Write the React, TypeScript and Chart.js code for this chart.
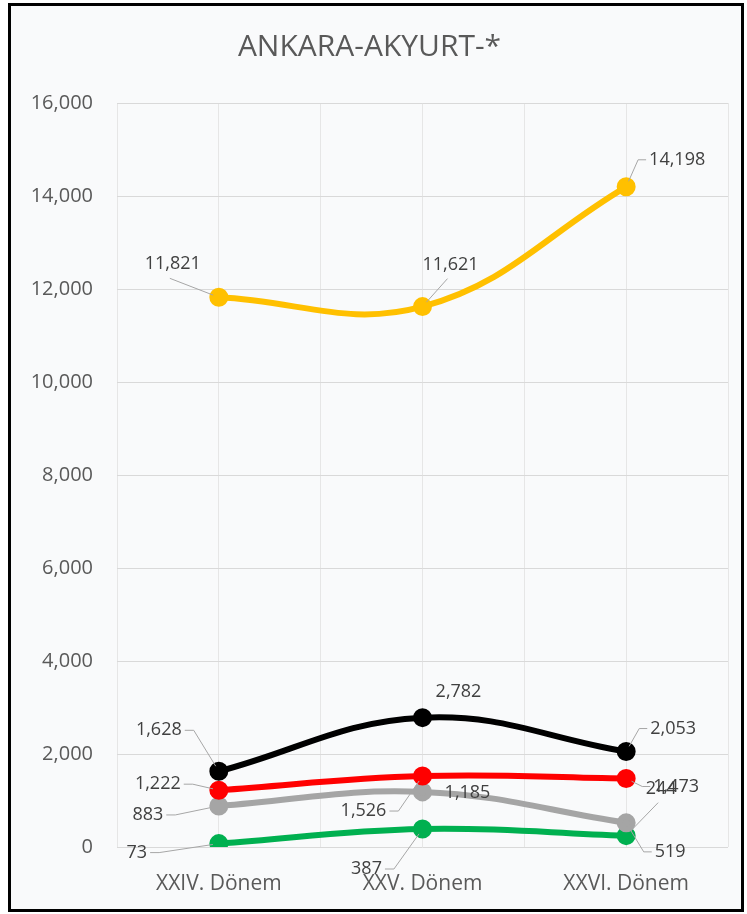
import React, { useEffect, useRef } from "react";
import { Chart, registerables } from "chart.js";

Chart.register(...registerables);

const FONT = "'Open Sans', 'Noto Sans', sans-serif";

const title = "ANKARA-AKYURT-*";
const categories = ["XXIV. Dönem", "XXV. Dönem", "XXVI. Dönem"];
const yellowValues = [11821, 11621, 14198];
const blackValues = [1628, 2782, 2053];
const redValues = [1222, 1526, 1473];
const grayValues = [883, 1185, 519];
const greenValues = [73, 387, 244];
const yMin = 0;
const yMax = 16000;
const yStep = 2000;

// label placement (offset from point, leader side) – styling only
const yellowPlaces: [number, number, string][] = [[-46, -33, "B"], [28, -42, "B"], [51, -27, "L"]];
const blackPlaces: [number, number, string][] = [[-60, -41, "R"], [36, -26, ""], [47, -23, "L"]];
const redPlaces: [number, number, string][] = [[-61, -6, "R"], [-59, 35, "R"], [50, 8, "L"]];
const grayPlaces: [number, number, string][] = [[-71, 9, "R"], [45, 1, ""], [44, 29, "L"]];
const greenPlaces: [number, number, string][] = [[-82, 9, "R"], [-56, 40, "R"], [35, -47, "B"]];

const series = [
  { values: blackValues, color: "#000000", places: blackPlaces },
  { values: redValues, color: "#FF0000", places: redPlaces },
  { values: grayValues, color: "#A5A5A5", places: grayPlaces },
  { values: greenValues, color: "#00B050", places: greenPlaces },
  { values: yellowValues, color: "#FFC000", places: yellowPlaces },
];

const labelPlugin = {
  id: "pointLabels",
  afterDatasetsDraw(chart: any) {
    const ctx = chart.ctx;
    ctx.save();
    ctx.font = `18px ${FONT}`;
    ctx.textAlign = "center";
    ctx.textBaseline = "middle";
    chart.data.datasets.forEach((ds: any, di: number) => {
      const meta = chart.getDatasetMeta(di);
      const places = series[di].places;
      meta.data.forEach((pt: any, i: number) => {
        const [dx, dy, lead] = places[i];
        const x = pt.x;
        const y = pt.y;
        const text = series[di].values[i].toLocaleString("en-US");
        const cx = x + dx;
        const cy = y + dy;
        const w = ctx.measureText(text).width;
        if (lead) {
          ctx.strokeStyle = "#a6a6a6";
          ctx.lineWidth = 1;
          ctx.beginPath();
          let sx: number, sy: number;
          if (lead === "R") {
            const ax = cx + w / 2 + 3;
            ctx.moveTo(ax, cy);
            sx = ax + 9;
            sy = cy;
            ctx.lineTo(sx, sy);
          } else if (lead === "L") {
            const ax = cx - w / 2 - 3;
            ctx.moveTo(ax, cy);
            sx = ax - 8;
            sy = cy;
            ctx.lineTo(sx, sy);
          } else {
            sx = cx - 3;
            sy = cy + 14;
            ctx.moveTo(sx, sy);
          }
          const vx = x - sx;
          const vy = y - sy;
          const len = Math.sqrt(vx * vx + vy * vy) || 1;
          const k = Math.max(len - 6, 0) / len;
          ctx.lineTo(sx + vx * k, sy + vy * k);
          ctx.stroke();
        }
        ctx.fillStyle = "#404040";
        ctx.fillText(text, cx, cy);
      });
    });
    ctx.restore();
  },
};

export default function App() {
  const ref = useRef<HTMLCanvasElement | null>(null);

  useEffect(() => {
    const canvas = ref.current;
    if (!canvas) return;
    const chart = new Chart(canvas, {
      type: "line",
      data: {
        datasets: series.map((s) => ({
          data: s.values.map((v, i) => ({ x: i, y: v })),
          borderColor: s.color,
          backgroundColor: s.color,
          pointBackgroundColor: s.color,
          pointBorderColor: s.color,
          borderWidth: 6,
          pointRadius: 6.5,
          pointHoverRadius: 6.5,
          tension: 0.4,
          fill: false,
        })),
      },
      options: {
        animation: false,
        responsive: true,
        maintainAspectRatio: false,
        layout: { padding: { left: 0, right: 13, top: 0, bottom: 0 } },
        plugins: {
          legend: { display: false },
          tooltip: { enabled: false },
          title: {
            display: true,
            text: title,
            color: "#595959",
            font: { family: FONT, size: 30, weight: "normal" },
            padding: { top: 23, bottom: 38 },
          },
        },
        scales: {
          x: {
            type: "linear",
            min: -0.5,
            max: 2.5,
            afterFit: (scale: any) => {
              scale.height = 62;
              scale.paddingLeft = 0;
              scale.paddingRight = 0;
            },
            ticks: {
              stepSize: 0.5,
              autoSkip: false,
              maxRotation: 0,
              padding: 24,
              color: "#595959",
              font: { family: FONT, size: 21 },
              callback: (v: any) => {
                const n = Number(v);
                return Number.isInteger(n) ? categories[n] : "";
              },
            },
            grid: { color: "#e6e6e6", drawTicks: false },
            border: { display: false },
          },
          y: {
            min: yMin,
            max: yMax,
            afterFit: (scale: any) => {
              scale.width = 106;
            },
            ticks: {
              stepSize: yStep,
              padding: 24,
              color: "#595959",
              font: { family: FONT, size: 20 },
              callback: (v: any) => Number(v).toLocaleString("en-US"),
            },
            grid: { color: "#d9d9d9", drawTicks: false },
            border: { display: false },
          },
        },
      },
      plugins: [labelPlugin],
    });
    return () => chart.destroy();
  }, []);

  return (
    <div
      style={{
        position: "absolute",
        left: 8,
        top: 3,
        width: 736,
        height: 909,
        border: "3px solid #000",
        boxSizing: "border-box",
        background: "#f9fafb",
      }}
    >
      <div style={{ width: 730, height: 903, position: "relative" }}>
        <canvas ref={ref} />
      </div>
    </div>
  );
}
